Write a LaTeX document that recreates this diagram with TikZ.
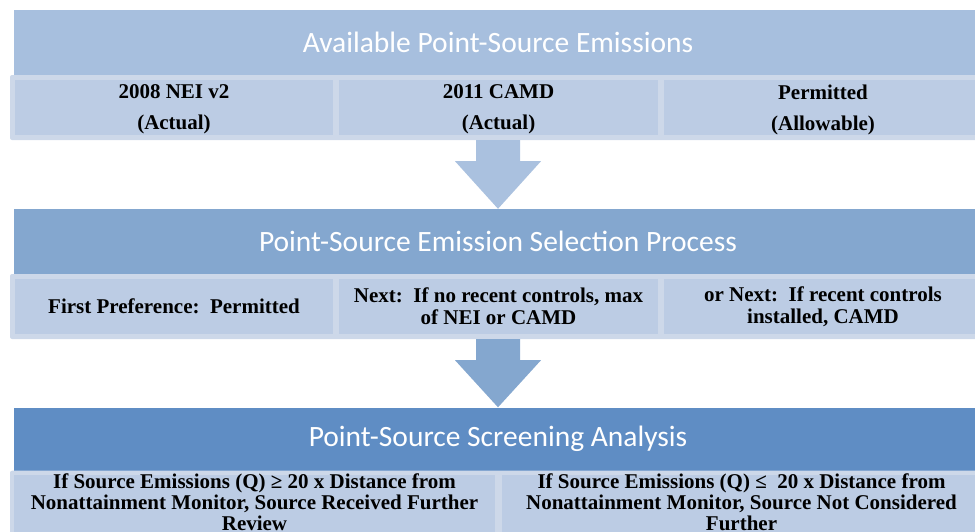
\documentclass[tikz,border=0pt]{standalone}
\usepackage{fontspec}
\setmainfont{Liberation Serif}
\newfontfamily\hdrfont{Carlito}
\usetikzlibrary{calc}

\definecolor{hdrone}{HTML}{A7BFDE}
\definecolor{hdrtwo}{HTML}{84A7CF}
\definecolor{hdrthree}{HTML}{5F8DC4}
\definecolor{framecol}{HTML}{CDD8E9}
\definecolor{cellcol}{HTML}{BCCCE4}

\tikzset{
  band/.style={fill=#1, inner sep=0pt, minimum width=968pt, minimum height=65pt,
    text=white, font=\hdrfont\fontsize{29.5}{34}\selectfont},
  rowframe/.style={fill=framecol, rounded corners=2pt, inner sep=0pt,
    minimum width=976pt, minimum height=#1},
  cell/.style={fill=cellcol, inner sep=0pt, minimum width=#1, align=center},
  celltext/.style={font=\bfseries\fontsize{21}{#1}\selectfont}
}

\begin{document}
\begin{tikzpicture}[x=1pt,y=-1pt]
\clip (0,0) rectangle (975,531);

% first stage
\node[band=hdrone] (avail) at (498,42.5) {Available Point-Source Emissions};
\node[rowframe=65pt] (availrow) at (498,107.5) {};
\node[cell=318pt, minimum height=55pt, celltext=31, text depth=0pt] (nei) at (174,107.5) {2008 NEI v2\\(Actual)};
\node[cell=319pt, minimum height=55pt, celltext=31, text depth=0pt] (camd) at (498.5,107.5) {2011 CAMD\\(Actual)};
\node[cell=318pt, minimum height=55pt, celltext=31, text depth=0pt] (permit) at (823,107.5) {Permitted\\(Allowable)};

% second stage
\node[band=hdrtwo] (select) at (498,241.5) {Point-Source Emission Selection Process};
\node[rowframe=65pt] (selectrow) at (498,306.5) {};
\node[cell=318pt, minimum height=55pt, celltext=22] (first) at (174,306.5) {First Preference:\ \ Permitted};
\node[cell=319pt, minimum height=55pt, celltext=22] (next) at (498.5,306.5) {Next:\ \ If no recent controls, max\\of NEI or CAMD};
\node[cell=318pt, minimum height=55pt, celltext=22] (ornext) at (823,306.5) {or Next:\ \ If recent controls\\installed, CAMD};

% third stage
\node[band=hdrthree, minimum height=63pt] (screen) at (498,439) {Point-Source Screening Analysis};
\node[rowframe=80pt, anchor=north] (screenrow) at (498,470.5) {};
\node[cell=481pt, minimum height=70pt, anchor=north] (further) at (254.5,475) {};
\node[cell=479pt, minimum height=70pt, anchor=north] (notfurther) at (741.5,475) {};
\node[celltext=21, align=center, anchor=north, inner sep=0pt] (furthertext) at ($(further.north)+(0,-1)$)
  {If Source Emissions (Q) ≥ 20 x Distance from\\Nonattainment Monitor, Source Received Further\\Review};
\node[celltext=21, align=center, anchor=north, inner sep=0pt] (notfurthertext) at ($(notfurther.north)+(0,-1)$)
  {If Source Emissions (Q) ≤\ \ 20 x Distance from\\Nonattainment Monitor, Source Not Considered\\Further};

% block arrows
\fill[hdrone!97!white] ($(availrow.south)+(-22,0)$) -- ($(availrow.south)+(-22,21)$)
  -- ($(availrow.south)+(-43,21)$) -- (select.north) -- ($(availrow.south)+(43,21)$)
  -- ($(availrow.south)+(22,21)$) -- ($(availrow.south)+(22,0)$) -- cycle;
\fill[hdrtwo] ($(selectrow.south)+(-22,0)$) -- ($(selectrow.south)+(-22,21)$)
  -- ($(selectrow.south)+(-43,21)$) -- (screen.north) -- ($(selectrow.south)+(43,21)$)
  -- ($(selectrow.south)+(22,21)$) -- ($(selectrow.south)+(22,0)$) -- cycle;

\end{tikzpicture}
\end{document}
